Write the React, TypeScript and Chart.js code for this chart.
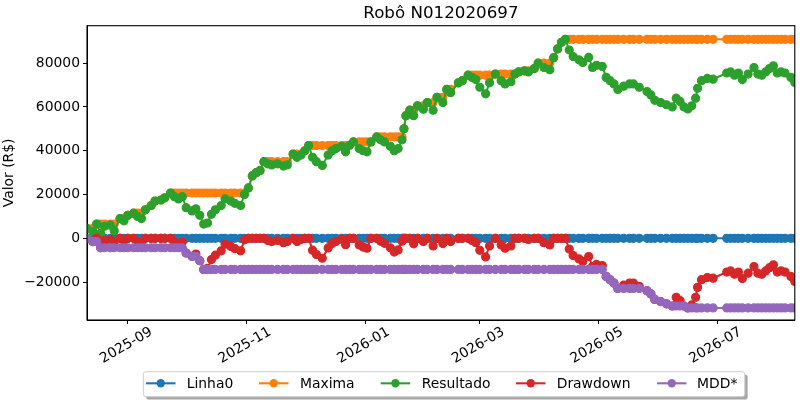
import React, { useEffect, useRef } from "react";
import { Chart, registerables } from "chart.js";

Chart.register(...registerables);

// dias de pregão
const dates = [
  "2025-08-11", "2025-08-14", "2025-08-16", "2025-08-18", "2025-08-20", "2025-08-23", "2025-08-25", "2025-08-28", "2025-08-30", "2025-09-01",
  "2025-09-04", "2025-09-06", "2025-09-08", "2025-09-10", "2025-09-13", "2025-09-15", "2025-09-18", "2025-09-20", "2025-09-23", "2025-09-25",
  "2025-09-27", "2025-09-29", "2025-10-01", "2025-10-04", "2025-10-06", "2025-10-08", "2025-10-10", "2025-10-12", "2025-10-14", "2025-10-16",
  "2025-10-19", "2025-10-21", "2025-10-24", "2025-10-26", "2025-10-29", "2025-10-31", "2025-11-02", "2025-11-04", "2025-11-06", "2025-11-08",
  "2025-11-10", "2025-11-12", "2025-11-14", "2025-11-17", "2025-11-20", "2025-11-22", "2025-11-25", "2025-11-27", "2025-11-29", "2025-12-01",
  "2025-12-03", "2025-12-05", "2025-12-07", "2025-12-10", "2025-12-13", "2025-12-15", "2025-12-17", "2025-12-20", "2025-12-22", "2025-12-24",
  "2025-12-26", "2025-12-29", "2025-12-31", "2026-01-02", "2026-01-04", "2026-01-07", "2026-01-09", "2026-01-11", "2026-01-14", "2026-01-16",
  "2026-01-18", "2026-01-20", "2026-01-21", "2026-01-22", "2026-01-24", "2026-01-26", "2026-01-28", "2026-01-31", "2026-02-02", "2026-02-05",
  "2026-02-07", "2026-02-10", "2026-02-12", "2026-02-14", "2026-02-18", "2026-02-20", "2026-02-23", "2026-02-25", "2026-02-27", "2026-03-01",
  "2026-03-04", "2026-03-06", "2026-03-09", "2026-03-12", "2026-03-14", "2026-03-17", "2026-03-19", "2026-03-21", "2026-03-24", "2026-03-26",
  "2026-03-29", "2026-03-31", "2026-04-03", "2026-04-06", "2026-04-08", "2026-04-10", "2026-04-12", "2026-04-14", "2026-04-16", "2026-04-18",
  "2026-04-21", "2026-04-23", "2026-04-26", "2026-04-28", "2026-04-30", "2026-05-03", "2026-05-05", "2026-05-07", "2026-05-09", "2026-05-11",
  "2026-05-14", "2026-05-17", "2026-05-19", "2026-05-22", "2026-05-26", "2026-05-28", "2026-05-30", "2026-06-02", "2026-06-05", "2026-06-08",
  "2026-06-10", "2026-06-12", "2026-06-14", "2026-06-16", "2026-06-18", "2026-06-20", "2026-06-21", "2026-06-23", "2026-06-26", "2026-06-29",
  "2026-07-06", "2026-07-08", "2026-07-10", "2026-07-12", "2026-07-14", "2026-07-17", "2026-07-20", "2026-07-22", "2026-07-24", "2026-07-26",
  "2026-07-28", "2026-07-30", "2026-08-01", "2026-08-03", "2026-08-05", "2026-08-08", "2026-08-10",
];

const resultado = [
  4500, 3000, 6500, 2200, 5500, 6000, 3500, 9000, 8000, 10500,
  11500, 10000, 9000, 13000, 15000, 17000, 17500, 18500, 20700, 19000,
  18000, 19000, 14000, 12500, 13500, 10500, 6500, 7000, 11000, 13000,
  15000, 18000, 17000, 16000, 15000, 20000, 23000, 28500, 30000, 31000,
  35000, 34000, 33500, 34000, 33000, 33500, 38500, 37000, 38000, 40000,
  42400, 37000, 35000, 33300, 38000, 40000, 41000, 42000, 39500, 42500,
  44000, 41000, 40000, 39500, 44000, 46300, 45000, 44000, 42000, 40000,
  41000, 45000, 50000, 56000, 58500, 56000, 60500, 59000, 62000, 58500,
  64400, 62000, 68000, 66500, 71000, 72000, 74500, 73500, 72500, 69000,
  66000, 71000, 75000, 72000, 70500, 71500, 75000, 76000, 76500, 76000,
  77500, 80000, 78000, 77000, 82500, 86500, 89500, 90900, 86000, 83000,
  81500, 80300, 82600, 78000, 79000, 78500, 73500, 72000, 70500, 68000,
  69500, 70500, 70500, 69000, 67000, 65500, 63000, 62000, 61000, 60000,
  64000, 62500, 60000, 59100, 60500, 64000, 68500, 72000, 73000, 72700,
  75500, 76000, 74500, 75500, 72500, 75000, 78000, 75000, 74500, 76000,
  77500, 78800, 75500, 76000, 75500, 73500, 71200,
];

const maxima = [
  4500, 4500, 6500, 6500, 6500, 6500, 6500, 9000, 9000, 10500,
  11500, 11500, 11500, 13000, 15000, 17000, 17500, 18500, 20700, 20700,
  20700, 20700, 20700, 20700, 20700, 20700, 20700, 20700, 20700, 20700,
  20700, 20700, 20700, 20700, 20700, 20700, 23000, 28500, 30000, 31000,
  35000, 35000, 35000, 35000, 35000, 35000, 38500, 38500, 38500, 40000,
  42400, 42400, 42400, 42400, 42400, 42400, 42400, 42400, 42400, 42500,
  44000, 44000, 44000, 44000, 44000, 46300, 46300, 46300, 46300, 46300,
  46300, 46300, 50000, 56000, 58500, 58500, 60500, 60500, 62000, 62000,
  64400, 64400, 68000, 68000, 71000, 72000, 74500, 74500, 74500, 74500,
  74500, 74500, 75000, 75000, 75000, 75000, 75000, 76000, 76500, 76500,
  77500, 80000, 80000, 80000, 82500, 86500, 89500, 90900, 90900, 90900,
  90900, 90900, 90900, 90900, 90900, 90900, 90900, 90900, 90900, 90900,
  90900, 90900, 90900, 90900, 90900, 90900, 90900, 90900, 90900, 90900,
  90900, 90900, 90900, 90900, 90900, 90900, 90900, 90900, 90900, 90900,
  90900, 90900, 90900, 90900, 90900, 90900, 90900, 90900, 90900, 90900,
  90900, 90900, 90900, 90900, 90900, 90900, 90900,
];

const drawdown = [
  0, -1500, 0, -4300, -1000, -500, -3000, 0, -1000, 0,
  0, -1500, -2500, 0, 0, 0, 0, 0, 0, -1700,
  -2700, -1700, -6700, -8200, -7200, -10200, -14200, -13700, -9700, -7700,
  -5700, -2700, -3700, -4700, -5700, -700, 0, 0, 0, 0,
  0, -1000, -1500, -1000, -2000, -1500, 0, -1500, -500, 0,
  0, -5400, -7400, -9100, -4400, -2400, -1400, -400, -2900, 0,
  0, -3000, -4000, -4500, 0, 0, -1300, -2300, -4300, -6300,
  -5300, -1300, 0, 0, 0, -2500, 0, -1500, 0, -3500,
  0, -2400, 0, -1500, 0, 0, 0, -1000, -2000, -5500,
  -8500, -3500, 0, -3000, -4500, -3500, 0, 0, 0, -500,
  0, 0, -2000, -3000, 0, 0, 0, 0, -4900, -7900,
  -9400, -10600, -8300, -12900, -11900, -12400, -17400, -18900, -20400, -22900,
  -21400, -20400, -20400, -21900, -23900, -25400, -27900, -28900, -29900, -30900,
  -26900, -28400, -30900, -31800, -30400, -26900, -22400, -18900, -17900, -18200,
  -15400, -14900, -16400, -15400, -18400, -15900, -12900, -15900, -16400, -14900,
  -13400, -12100, -15400, -14900, -15400, -17400, -19700,
];

const mdd = [
  0, -1500, -1500, -4300, -4300, -4300, -4300, -4300, -4300, -4300,
  -4300, -4300, -4300, -4300, -4300, -4300, -4300, -4300, -4300, -4300,
  -4300, -4300, -6700, -8200, -8200, -10200, -14200, -14200, -14200, -14200,
  -14200, -14200, -14200, -14200, -14200, -14200, -14200, -14200, -14200, -14200,
  -14200, -14200, -14200, -14200, -14200, -14200, -14200, -14200, -14200, -14200,
  -14200, -14200, -14200, -14200, -14200, -14200, -14200, -14200, -14200, -14200,
  -14200, -14200, -14200, -14200, -14200, -14200, -14200, -14200, -14200, -14200,
  -14200, -14200, -14200, -14200, -14200, -14200, -14200, -14200, -14200, -14200,
  -14200, -14200, -14200, -14200, -14200, -14200, -14200, -14200, -14200, -14200,
  -14200, -14200, -14200, -14200, -14200, -14200, -14200, -14200, -14200, -14200,
  -14200, -14200, -14200, -14200, -14200, -14200, -14200, -14200, -14200, -14200,
  -14200, -14200, -14200, -14200, -14200, -14200, -17400, -18900, -20400, -22900,
  -22900, -22900, -22900, -22900, -23900, -25400, -27900, -28900, -29900, -30900,
  -30900, -30900, -30900, -31800, -31800, -31800, -31800, -31800, -31800, -31800,
  -31800, -31800, -31800, -31800, -31800, -31800, -31800, -31800, -31800, -31800,
  -31800, -31800, -31800, -31800, -31800, -31800, -31800,
];

// linha de referência em zero
const linha0 = dates.map(() => 0);

const yTicks = [-20000, 0, 20000, 40000, 60000, 80000];
const xTickLabels = ["2025-09", "2025-11", "2026-01", "2026-03", "2026-05", "2026-07"];
const seriesNames = ["Linha0", "Maxima", "Resultado", "Drawdown", "MDD*"];
const colors = ["#1f77b4", "#ff7f0e", "#2ca02c", "#d62728", "#9467bd"];

const FONT = '"DejaVu Sans", sans-serif';

const toTs = (s: string) => {
  const [y, m, d] = s.split("-").map(Number);
  return Date.UTC(y, m - 1, d || 1);
};

// título, rótulos, moldura e legenda no estilo matplotlib
const mplDecor = {
  id: "mplDecor",
  afterDatasetsDraw(chart: Chart) {
    const { ctx, chartArea: a } = chart;
    ctx.save();
    ctx.strokeStyle = "#000";
    ctx.lineWidth = 1.1;
    ctx.strokeRect(a.left, a.top, a.right - a.left, a.bottom - a.top);
    ctx.restore();
  },
  afterDraw(chart: Chart) {
    const { ctx, chartArea: a } = chart;
    const xScale = chart.scales.x;
    ctx.save();
    ctx.fillStyle = "#000";

    ctx.font = `16.7px ${FONT}`;
    ctx.textAlign = "center";
    ctx.textBaseline = "alphabetic";
    ctx.fillText("Robô N012020697", (a.left + a.right) / 2, 17.5);

    ctx.font = `13.9px ${FONT}`;
    ctx.save();
    ctx.translate(9.5, (a.top + a.bottom) / 2);
    ctx.rotate(-Math.PI / 2);
    ctx.textBaseline = "middle";
    ctx.fillText("Valor (R$)", 0, 0);
    ctx.restore();

    // rótulos do eixo x: girados 30°, centrados no tick
    xTickLabels.forEach((label) => {
      const px = xScale.getPixelForValue(toTs(label));
      ctx.save();
      ctx.translate(px - 1.5, a.bottom + 25.5);
      ctx.rotate(-Math.PI / 6);
      ctx.textAlign = "center";
      ctx.textBaseline = "middle";
      ctx.fillText(label, 0, 0);
      ctx.restore();
    });

    // legenda
    const bx = 143.3, by = 371.7, bw = 601.5, bh = 25, r = 2.8;
    const rr = (x: number, y: number) => {
      ctx.beginPath();
      ctx.roundRect(x, y, bw, bh, r);
    };
    rr(bx + 2.8, by + 2.8);
    ctx.fillStyle = "rgba(77,77,77,0.5)";
    ctx.fill();
    rr(bx, by);
    ctx.fillStyle = "#fff";
    ctx.fill();
    ctx.strokeStyle = "#cccccc";
    ctx.lineWidth = 1;
    ctx.stroke();

    const lineStarts = [146, 259, 380.7, 516, 657];
    const textStarts = [186.7, 300, 421.7, 556.7, 697];
    const cy = 383.3;
    seriesNames.forEach((name, i) => {
      const x0 = lineStarts[i];
      ctx.strokeStyle = colors[i];
      ctx.lineWidth = 2.1;
      ctx.beginPath();
      ctx.moveTo(x0, cy);
      ctx.lineTo(x0 + 29.5, cy);
      ctx.stroke();
      ctx.beginPath();
      ctx.arc(x0 + 14.75, cy, 4.2, 0, Math.PI * 2);
      ctx.fillStyle = colors[i];
      ctx.fill();
      ctx.fillStyle = "#000";
      ctx.textAlign = "left";
      ctx.textBaseline = "alphabetic";
      ctx.fillText(name, textStarts[i], 388.3);
    });
    ctx.restore();
  },
};

const App: React.FC = () => {
  const canvasRef = useRef<HTMLCanvasElement>(null!);

  useEffect(() => {
    const series = [linha0, maxima, resultado, drawdown, mdd];
    const chart = new Chart(canvasRef.current, {
      type: "line",
      data: {
        datasets: series.map((vals, i) => ({
          label: seriesNames[i],
          data: dates.map((d, j) => ({ x: toTs(d), y: vals[j] })),
          borderColor: colors[i],
          backgroundColor: colors[i],
          pointBackgroundColor: colors[i],
          pointBorderColor: colors[i],
          borderWidth: 2,
          pointRadius: 4,
          pointBorderWidth: 1.2,
          tension: 0,
          order: series.length - i,
        })),
      },
      options: {
        responsive: false,
        animation: false,
        events: [],
        layout: { padding: { top: 25.7, right: 3, left: 0, bottom: 0 } },
        plugins: {
          legend: { display: false },
          title: { display: false },
          tooltip: { enabled: false },
        },
        scales: {
          x: {
            type: "linear",
            min: toTs(dates[0]),
            max: toTs(dates[dates.length - 1]),
            afterBuildTicks: (scale: any) => {
              scale.ticks = xTickLabels.map((l) => ({ value: toTs(l) }));
            },
            afterFit: (scale: any) => {
              scale.height = 80;
            },
            grid: { drawOnChartArea: false, drawTicks: true, tickLength: 4, color: "#000", tickWidth: 1 },
            border: { display: true, color: "#000", width: 1 },
            ticks: {
              display: false,
              autoSkip: false,
            },
          },
          y: {
            type: "linear",
            min: -37300,
            max: 97100,
            afterBuildTicks: (scale: any) => {
              scale.ticks = yTicks.map((v) => ({ value: v }));
            },
            afterFit: (scale: any) => {
              scale.width = 87;
            },
            grid: { drawOnChartArea: false, drawTicks: true, tickLength: 4, color: "#000", tickWidth: 1 },
            border: { display: true, color: "#000", width: 1 },
            ticks: {
              padding: 3,
              color: "#000",
              font: { family: FONT, size: 13.9 },
              callback: (v: any) => String(v).replace("-", "\u2212"),
            },
          },
        },
      },
      plugins: [mplDecor],
    });
    return () => chart.destroy();
  }, []);

  return (
    <div style={{ position: "absolute", left: 0, top: 0, width: 800, height: 400, background: "#fff" }}>
      <canvas ref={canvasRef} width={800} height={400}></canvas>
    </div>
  );
};

export default App;
